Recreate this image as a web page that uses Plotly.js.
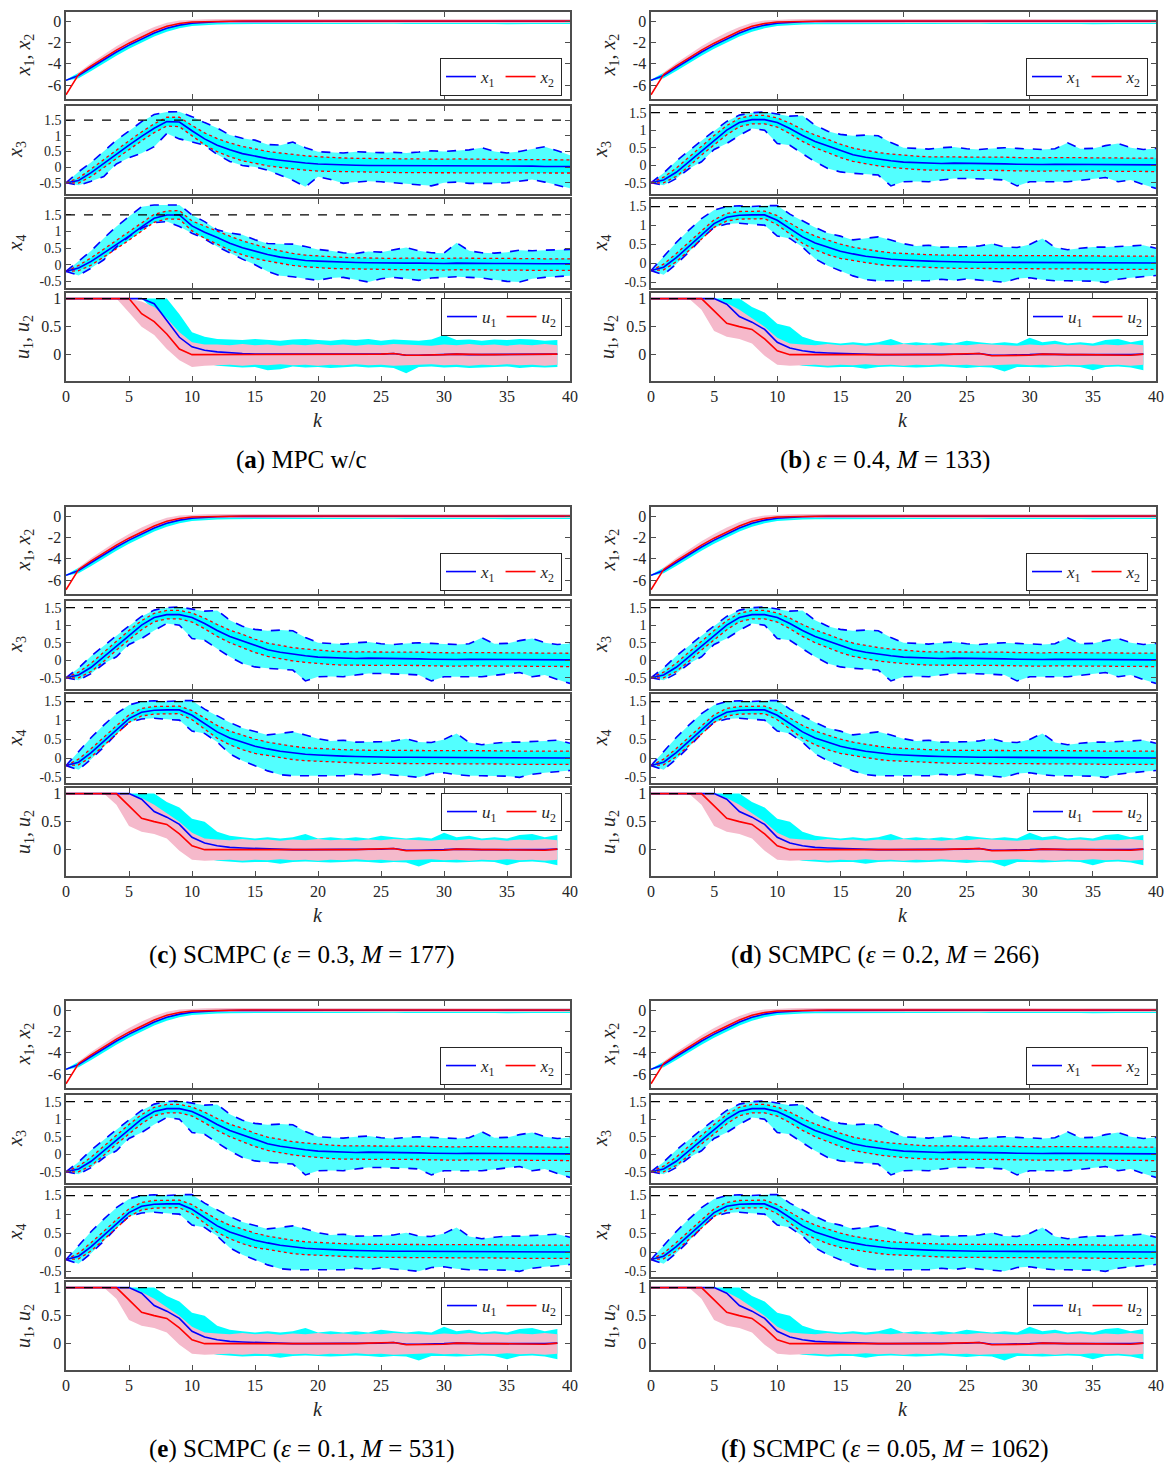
<!DOCTYPE html>
<html><head><meta charset="utf-8">
<script src="https://cdn.plot.ly/plotly-3.0.1.min.js"></script>
<style>html,body{margin:0;padding:0;background:#fff}#chart{width:1171px;height:1464px}</style>
</head><body><div id="chart"></div>
<script>
// ---------- DATA ----------
const kState = [0,1,2,3,4,5,6,7,8,9,10,11,12,13,14,15,16,17,18,19,20,21,22,23,24,25,26,27,28,29,30,31,32,33,34,35,36,37,38,39,40];
const kInput = [0,1,2,3,4,5,6,7,8,9,10,11,12,13,14,15,16,17,18,19,20,21,22,23,24,25,26,27,28,29,30,31,32,33,34,35,36,37,38,39];
const xTicksTop = [10,20,30];
const xTicksBottom = [0,5,10,15,20,25,30,35,40];
const yTicksX12 = [-6,-4,-2,0];
const yTicksX34 = [-0.5,0,0.5,1,1.5];
const yTicksU = [0,0.5,1];
const stateLimit = 1.5;
const inputLimit = 1;

// x1, x2 (same in all panels)
const x1Mean = [-5.55,-5.10,-4.35,-3.60,-2.90,-2.25,-1.65,-1.12,-0.68,-0.38,-0.20,-0.11,-0.06,-0.04,-0.03,-0.02,-0.02,-0.02,-0.01,-0.02,-0.01,-0.01,-0.02,-0.01,-0.01,-0.01,-0.02,-0.01,-0.01,-0.01,-0.01,-0.02,-0.01,-0.01,-0.01,-0.01,-0.01,-0.02,-0.01,-0.01,-0.01];
const x2Mean = [-6.90,-5.00,-4.20,-3.42,-2.72,-2.07,-1.47,-0.93,-0.48,-0.22,-0.09,-0.04,-0.02,-0.01,0,0,0,0,0,0,0,0,0,0,0,0,0,0,0,0,0,0,0,0,0,0,0,0,0,0,0];
const x1Lo = [-5.60,-5.35,-4.68,-3.95,-3.26,-2.60,-2.00,-1.45,-1.00,-0.68,-0.46,-0.36,-0.31,-0.29,-0.28,-0.27,-0.28,-0.26,-0.27,-0.29,-0.26,-0.27,-0.28,-0.26,-0.30,-0.27,-0.26,-0.28,-0.27,-0.26,-0.29,-0.27,-0.26,-0.28,-0.27,-0.30,-0.26,-0.27,-0.28,-0.26,-0.27];
const x1Hi = [-5.50,-4.85,-4.10,-3.35,-2.66,-2.02,-1.42,-0.90,-0.46,-0.16,0.00,0.06,0.09,0.11,0.12,0.12,0.13,0.11,0.12,0.14,0.12,0.13,0.11,0.12,0.14,0.12,0.13,0.12,0.11,0.13,0.14,0.12,0.13,0.12,0.11,0.13,0.14,0.12,0.13,0.12,0.13];
const x2Lo = [-6.90,-5.18,-4.40,-3.64,-2.94,-2.29,-1.69,-1.14,-0.68,-0.40,-0.26,-0.20,-0.18,-0.17,-0.17,-0.16,-0.17,-0.16,-0.17,-0.18,-0.16,-0.17,-0.16,-0.17,-0.18,-0.16,-0.17,-0.16,-0.17,-0.16,-0.18,-0.17,-0.16,-0.17,-0.16,-0.17,-0.18,-0.16,-0.17,-0.16,-0.17];
const x2Hi = [-6.90,-4.82,-3.92,-3.10,-2.36,-1.68,-1.08,-0.56,-0.16,0.06,0.15,0.18,0.19,0.19,0.18,0.19,0.18,0.19,0.20,0.18,0.19,0.18,0.19,0.18,0.20,0.19,0.18,0.19,0.18,0.19,0.20,0.18,0.19,0.18,0.19,0.18,0.20,0.19,0.18,0.19,0.18];

// Panel (a): MPC w/c
const mpcX3Mean = [-0.50,-0.43,-0.18,0.12,0.42,0.70,0.98,1.24,1.45,1.44,1.16,0.90,0.70,0.55,0.43,0.34,0.27,0.22,0.17,0.13,0.10,0.08,0.07,0.06,0.05,0.05,0.04,0.04,0.04,0.04,0.04,0.05,0.04,0.04,0.03,0.03,0.03,0.03,0.02,0.02,0.02];
const mpcX3DotU = [-0.50,-0.35,-0.06,0.25,0.56,0.84,1.12,1.38,1.59,1.59,1.33,1.09,0.91,0.77,0.66,0.57,0.50,0.45,0.40,0.36,0.33,0.30,0.29,0.28,0.27,0.27,0.26,0.26,0.26,0.25,0.25,0.26,0.25,0.25,0.24,0.24,0.24,0.24,0.23,0.23,0.23];
const mpcX3DotL = [-0.50,-0.51,-0.30,-0.01,0.28,0.56,0.84,1.10,1.31,1.29,0.99,0.71,0.49,0.33,0.20,0.11,0.04,-0.01,-0.06,-0.10,-0.13,-0.14,-0.15,-0.16,-0.17,-0.17,-0.18,-0.18,-0.18,-0.18,-0.18,-0.17,-0.18,-0.18,-0.19,-0.19,-0.19,-0.19,-0.19,-0.19,-0.19];
const mpcX3EnvU = [-0.50,-0.15,0.15,0.50,0.86,1.15,1.45,1.68,1.76,1.77,1.61,1.42,1.25,1.02,0.92,0.86,0.72,0.70,0.80,0.62,0.49,0.47,0.45,0.49,0.47,0.46,0.47,0.45,0.48,0.52,0.50,0.53,0.55,0.62,0.50,0.45,0.50,0.58,0.65,0.52,0.38];
const mpcX3EnvL = [-0.50,-0.58,-0.45,-0.30,0.10,0.30,0.44,0.65,1.07,0.90,0.80,0.70,0.40,0.18,0.05,0.00,-0.10,-0.25,-0.42,-0.63,-0.31,-0.40,-0.52,-0.48,-0.45,-0.47,-0.50,-0.52,-0.55,-0.60,-0.50,-0.48,-0.52,-0.53,-0.52,-0.50,-0.45,-0.40,-0.48,-0.58,-0.68];
const mpcX4Mean = [-0.20,-0.10,0.10,0.35,0.60,0.86,1.14,1.40,1.50,1.50,1.17,0.98,0.82,0.65,0.51,0.40,0.31,0.23,0.17,0.13,0.11,0.09,0.08,0.07,0.06,0.05,0.05,0.05,0.05,0.04,0.04,0.05,0.04,0.04,0.04,0.04,0.03,0.03,0.03,0.03,0.03];
const mpcX4DotU = [-0.20,-0.02,0.21,0.47,0.72,0.98,1.26,1.52,1.62,1.63,1.32,1.16,1.02,0.86,0.72,0.60,0.50,0.42,0.34,0.29,0.26,0.24,0.22,0.21,0.20,0.19,0.19,0.20,0.19,0.19,0.19,0.20,0.19,0.19,0.19,0.19,0.18,0.18,0.18,0.18,0.18];
const mpcX4DotL = [-0.20,-0.18,-0.01,0.23,0.48,0.74,1.02,1.28,1.38,1.37,1.02,0.80,0.62,0.44,0.30,0.19,0.11,0.04,-0.02,-0.06,-0.09,-0.11,-0.12,-0.13,-0.14,-0.15,-0.15,-0.15,-0.15,-0.16,-0.16,-0.15,-0.16,-0.16,-0.16,-0.16,-0.17,-0.17,-0.17,-0.17,-0.17];
const mpcX4EnvU = [-0.20,0.12,0.42,0.80,1.15,1.45,1.75,1.80,1.80,1.80,1.50,1.30,1.05,0.96,0.90,0.75,0.64,0.64,0.62,0.55,0.46,0.42,0.36,0.34,0.40,0.38,0.45,0.52,0.42,0.36,0.35,0.66,0.42,0.36,0.35,0.38,0.44,0.42,0.44,0.45,0.46];
const mpcX4EnvL = [-0.20,-0.32,-0.10,0.15,0.54,0.85,1.10,1.27,1.30,1.15,0.95,0.78,0.55,0.35,0.17,0.00,-0.20,-0.33,-0.36,-0.42,-0.47,-0.40,-0.38,-0.45,-0.52,-0.42,-0.38,-0.42,-0.47,-0.40,-0.38,-0.36,-0.38,-0.40,-0.45,-0.50,-0.52,-0.42,-0.38,-0.35,-0.33];
const mpcU1Mean = [1,1,1,1,1,1,1,0.91,0.62,0.31,0.14,0.08,0.05,0.03,0.02,0.01,0.01,0.00,0.00,0.00,0.01,0.00,0.00,0.01,0.00,0.01,0.02,-0.01,-0.01,0.00,0.00,0.01,0.00,0.00,0.00,0.00,0.00,0.00,0.00,0.01];
const mpcU2Mean = [1,1,1,1,1,1,0.73,0.59,0.37,0.10,0.00,0.00,0.00,0.00,0.00,0.00,0.00,0.00,0.00,0.00,0.00,0.00,0.00,0.01,0.01,0.01,0.02,-0.01,-0.01,-0.01,0.00,0.01,0.00,0.00,0.00,0.00,0.00,0.00,0.00,0.01];
const mpcU1Hi = [1,1,1,1,1,1,1,1,1,0.72,0.40,0.32,0.28,0.27,0.26,0.28,0.27,0.25,0.27,0.28,0.26,0.25,0.27,0.26,0.28,0.25,0.27,0.26,0.25,0.27,0.35,0.26,0.27,0.25,0.27,0.26,0.28,0.27,0.25,0.26];
const mpcU1Lo = [1,1,1,1,1,1,1,0.80,0.45,0.12,-0.05,-0.15,-0.20,-0.22,-0.23,-0.22,-0.28,-0.26,-0.21,-0.23,-0.22,-0.24,-0.22,-0.21,-0.23,-0.22,-0.24,-0.33,-0.22,-0.21,-0.23,-0.22,-0.24,-0.23,-0.22,-0.21,-0.24,-0.22,-0.23,-0.22];
const mpcU2Hi = [1,1,1,1,1,1,0.95,0.85,0.65,0.40,0.22,0.18,0.18,0.17,0.19,0.17,0.18,0.16,0.18,0.17,0.19,0.17,0.18,0.16,0.18,0.17,0.19,0.18,0.17,0.16,0.18,0.17,0.19,0.17,0.18,0.16,0.18,0.17,0.19,0.17];
const mpcU2Lo = [1,1,1,1,1,0.75,0.50,0.35,0.10,-0.10,-0.22,-0.20,-0.19,-0.18,-0.20,-0.18,-0.19,-0.17,-0.19,-0.18,-0.20,-0.18,-0.19,-0.17,-0.19,-0.18,-0.20,-0.19,-0.18,-0.17,-0.19,-0.18,-0.20,-0.18,-0.19,-0.17,-0.19,-0.18,-0.20,-0.18];

// Panels (b)-(f): SCMPC (visually identical runs)
const scX3Mean = [-0.50,-0.42,-0.20,0.10,0.42,0.72,1.00,1.22,1.30,1.30,1.22,1.05,0.85,0.68,0.55,0.41,0.30,0.23,0.17,0.13,0.09,0.07,0.05,0.05,0.06,0.06,0.05,0.05,0.04,0.03,0.02,0.02,0.03,0.03,0.03,0.03,0.02,0.02,0.02,0.01,0.01];
const scX3DotU = [-0.50,-0.34,-0.08,0.23,0.55,0.85,1.13,1.34,1.42,1.42,1.35,1.20,1.02,0.86,0.74,0.60,0.49,0.42,0.36,0.32,0.28,0.26,0.24,0.24,0.25,0.25,0.24,0.24,0.23,0.22,0.21,0.21,0.22,0.22,0.22,0.22,0.21,0.21,0.21,0.20,0.20];
const scX3DotL = [-0.50,-0.50,-0.32,-0.03,0.29,0.59,0.87,1.10,1.18,1.18,1.09,0.90,0.68,0.50,0.36,0.22,0.11,0.04,-0.02,-0.06,-0.10,-0.12,-0.14,-0.14,-0.13,-0.13,-0.14,-0.14,-0.15,-0.16,-0.17,-0.17,-0.16,-0.16,-0.16,-0.16,-0.17,-0.17,-0.17,-0.18,-0.18];
const scX3EnvU = [-0.50,-0.22,0.12,0.42,0.70,0.98,1.25,1.43,1.50,1.52,1.47,1.40,1.42,1.14,0.97,0.88,0.84,0.86,0.84,0.65,0.50,0.47,0.46,0.50,0.52,0.47,0.45,0.48,0.50,0.48,0.47,0.45,0.47,0.64,0.47,0.48,0.56,0.62,0.50,0.45,0.48];
const scX3EnvL = [-0.50,-0.57,-0.38,-0.10,0.10,0.45,0.62,0.85,1.05,1.00,0.62,0.57,0.33,0.10,-0.09,-0.19,-0.23,-0.26,-0.28,-0.59,-0.47,-0.46,-0.47,-0.42,-0.38,-0.38,-0.38,-0.40,-0.42,-0.59,-0.47,-0.46,-0.47,-0.47,-0.43,-0.38,-0.35,-0.47,-0.42,-0.55,-0.66];
const scX4Mean = [-0.19,-0.10,0.15,0.45,0.75,1.05,1.22,1.27,1.28,1.28,1.14,0.92,0.70,0.54,0.42,0.32,0.25,0.19,0.15,0.11,0.09,0.07,0.06,0.05,0.04,0.04,0.03,0.03,0.03,0.03,0.02,0.02,0.02,0.02,0.02,0.02,0.01,0.01,0.01,0.01,0.01];
const scX4DotU = [-0.19,-0.02,0.26,0.57,0.86,1.15,1.32,1.37,1.38,1.38,1.26,1.07,0.87,0.72,0.61,0.51,0.43,0.37,0.32,0.28,0.26,0.24,0.23,0.22,0.21,0.21,0.21,0.21,0.21,0.21,0.20,0.20,0.20,0.20,0.20,0.20,0.19,0.19,0.19,0.19,0.19];
const scX4DotL = [-0.19,-0.17,0.04,0.33,0.64,0.95,1.12,1.17,1.18,1.18,1.02,0.77,0.53,0.36,0.23,0.13,0.07,0.01,-0.03,-0.06,-0.08,-0.10,-0.11,-0.12,-0.13,-0.13,-0.14,-0.14,-0.14,-0.14,-0.15,-0.15,-0.15,-0.15,-0.15,-0.15,-0.16,-0.16,-0.16,-0.16,-0.16];
const scX4EnvU = [-0.19,0.18,0.55,0.88,1.18,1.41,1.50,1.52,1.50,1.52,1.53,1.30,1.12,0.95,0.80,0.72,0.62,0.66,0.70,0.62,0.52,0.46,0.48,0.43,0.43,0.44,0.46,0.52,0.43,0.42,0.50,0.66,0.42,0.36,0.40,0.43,0.43,0.44,0.46,0.48,0.40];
const scX4EnvL = [-0.19,-0.30,-0.02,0.30,0.65,0.95,1.04,1.06,1.03,1.01,0.72,0.66,0.43,0.12,-0.06,-0.20,-0.33,-0.43,-0.46,-0.46,-0.46,-0.44,-0.46,-0.42,-0.45,-0.41,-0.44,-0.48,-0.50,-0.40,-0.38,-0.43,-0.46,-0.46,-0.46,-0.47,-0.50,-0.42,-0.38,-0.35,-0.32];
const scU1Mean = [1,1,1,1,1,1,0.90,0.68,0.58,0.45,0.22,0.12,0.07,0.04,0.03,0.02,0.02,0.01,0.00,0.00,0.00,0.00,0.00,0.01,0.01,0.01,0.02,-0.01,-0.01,-0.01,0.00,0.01,0.00,0.00,0.00,0.00,-0.01,-0.01,0.00,0.01];
const scU2Mean = [1,1,1,1,1,0.78,0.56,0.50,0.45,0.28,0.07,0.00,0.00,0.00,0.00,0.00,0.00,0.00,-0.01,-0.01,0.00,0.00,0.00,0.00,0.01,0.01,0.02,-0.02,-0.02,-0.01,-0.01,0.01,0.00,0.00,0.00,0.00,-0.01,-0.01,-0.01,0.01];
const scU1Hi = [1,1,1,1,1,1,1,1,0.85,0.75,0.55,0.50,0.32,0.25,0.22,0.20,0.22,0.20,0.22,0.28,0.20,0.22,0.20,0.22,0.20,0.25,0.22,0.20,0.22,0.20,0.30,0.22,0.25,0.20,0.22,0.20,0.26,0.28,0.22,0.26];
const scU1Lo = [1,1,1,1,1,1,0.78,0.55,0.42,0.25,0.02,-0.15,-0.20,-0.22,-0.23,-0.22,-0.22,-0.25,-0.22,-0.21,-0.22,-0.23,-0.22,-0.21,-0.22,-0.24,-0.22,-0.23,-0.30,-0.22,-0.22,-0.23,-0.22,-0.21,-0.22,-0.28,-0.22,-0.21,-0.23,-0.28];
const scU2Hi = [1,1,1,1,1,1,0.92,0.80,0.65,0.50,0.30,0.20,0.18,0.17,0.19,0.17,0.18,0.16,0.18,0.17,0.19,0.17,0.18,0.16,0.18,0.17,0.19,0.18,0.17,0.16,0.18,0.17,0.19,0.17,0.18,0.16,0.18,0.17,0.19,0.17];
const scU2Lo = [1,1,1,1,0.80,0.42,0.32,0.28,0.20,-0.02,-0.18,-0.20,-0.19,-0.18,-0.20,-0.18,-0.19,-0.17,-0.19,-0.18,-0.20,-0.18,-0.19,-0.17,-0.19,-0.18,-0.20,-0.19,-0.18,-0.17,-0.19,-0.18,-0.20,-0.18,-0.19,-0.17,-0.19,-0.18,-0.20,-0.18];

const captions = [
  '(<b>a</b>) MPC w/c',
  '(<b>b</b>) <i>ε</i> = 0.4, <i>M</i> = 133)',
  '(<b>c</b>) SCMPC (<i>ε</i> = 0.3, <i>M</i> = 177)',
  '(<b>d</b>) SCMPC (<i>ε</i> = 0.2, <i>M</i> = 266)',
  '(<b>e</b>) SCMPC (<i>ε</i> = 0.1, <i>M</i> = 531)',
  '(<b>f</b>) SCMPC (<i>ε</i> = 0.05, <i>M</i> = 1062)'
];

// ---------- BUILD ----------
const mpcSet = {x3:[mpcX3Mean,mpcX3DotU,mpcX3DotL,mpcX3EnvU,mpcX3EnvL], x4:[mpcX4Mean,mpcX4DotU,mpcX4DotL,mpcX4EnvU,mpcX4EnvL],
  u:[mpcU1Mean,mpcU2Mean,mpcU1Lo,mpcU1Hi,mpcU2Lo,mpcU2Hi], r3:[-0.86,1.95], r4:[-0.70,1.98]};
const scSet = {x3:[scX3Mean,scX3DotU,scX3DotL,scX3EnvU,scX3EnvL], x4:[scX4Mean,scX4DotU,scX4DotL,scX4EnvU,scX4EnvL],
  u:[scU1Mean,scU2Mean,scU1Lo,scU1Hi,scU2Lo,scU2Hi], r3:[-0.82,1.69], r4:[-0.65,1.70]};
const sets = [mpcSet, scSet, scSet, scSet, scSet, scSet];

const W = 1171, H = 1464;
const colX = [[66,570],[651,1156]];
const rowOff = [0,495,989];
const boxes = [[12,99],[106,194],[199,288],[293,381]];
const FONT = 'Liberation Serif, Times New Roman, serif';
const AX = '#4d4d4d';
const CYAN = 'rgb(0,255,255)', CYANA = 'rgba(0,255,255,0.68)', PINK = 'rgb(245,185,203)';

const traces = [], layout = {
  width: W, height: H, margin:{l:0,r:0,t:0,b:0}, paper_bgcolor:'#fff', plot_bgcolor:'#fff',
  font:{family:FONT, size:16, color:'#262626'}, showlegend:true, annotations:[], shapes:[]
};
const fmt = v => String(v);
let legendCount = 0;

function ax(n){ return n===1 ? ['x','y','xaxis','yaxis'] : ['x'+n,'y'+n,'xaxis'+n,'yaxis'+n]; }
function band(n, xs, lo, hi, color){
  const [xa,ya] = ax(n);
  traces.push({x:xs,y:lo,xaxis:xa,yaxis:ya,mode:'lines',line:{width:0,color:color},showlegend:false,hoverinfo:'skip'});
  traces.push({x:xs,y:hi,xaxis:xa,yaxis:ya,mode:'lines',line:{width:0,color:color},fill:'tonexty',fillcolor:color,showlegend:false,hoverinfo:'skip'});
}
function line(n, xs, ys, color, dash, width, name, legend){
  const [xa,ya] = ax(n);
  const t = {x:xs,y:ys,xaxis:xa,yaxis:ya,mode:'lines',line:{color:color,dash:dash,width:width},hoverinfo:'skip',showlegend:!!name};
  if (name){ t.name = name; t.legend = legend; }
  traces.push(t);
}
function newLegend(xr, yp, anchorY){
  legendCount++;
  const key = legendCount===1 ? 'legend' : 'legend'+legendCount;
  layout[key] = {x:xr/W, y:1-yp/H, xanchor:'right', yanchor:anchorY, orientation:'h', traceorder:'normal',
    bgcolor:'#fff', bordercolor:'#262626', borderwidth:1, font:{family:FONT,size:17,color:'#262626'},
    itemwidth:30, tracegroupgap:0, itemclick:false, itemdoubleclick:false};
  return key;
}

for (let p=0; p<6; p++){
  const col = p%2, row = Math.floor(p/2), S = sets[p], off = rowOff[row];
  const [xl,xr] = colX[col];
  const yr = [[-7.3,0.85], S.r3, S.r4, [-0.47,1.1]];
  const yt = [yTicksX12, yTicksX34, yTicksX34, yTicksU];
  for (let s=0; s<4; s++){
    const n = p*4+s+1; const [xa,ya,xk,yk] = ax(n);
    const top = boxes[s][0]+off, bot = boxes[s][1]+off;
    const yfs = (s===1||s===2) ? 14 : 16;
    layout[xk] = {domain:[xl/W, xr/W], anchor:ya, range:[0,40], showgrid:false, zeroline:false,
      showline:true, linecolor:AX, linewidth:1.6, mirror:'ticks', ticks:'inside', ticklen:5, tickcolor:AX, tickwidth:1,
      tickmode:'array', tickvals: s===3 ? xTicksBottom : xTicksTop, ticktext: (s===3 ? xTicksBottom : xTicksTop).map(fmt),
      showticklabels: s===3, tickfont:{family:FONT,size:16,color:'#262626'}, fixedrange:true};
    layout[yk] = {domain:[1-bot/H, 1-top/H], anchor:xa, range:yr[s], showgrid:false, zeroline:false,
      showline:true, linecolor:AX, linewidth:1.6, mirror:'ticks', ticks:'inside', ticklen:5, tickcolor:AX, tickwidth:1,
      tickmode:'array', tickvals:yt[s], ticktext:yt[s].map(fmt), tickfont:{family:FONT,size:yfs,color:'#262626'}, fixedrange:true};
    if (s===0){
      band(n, kState, x1Lo, x1Hi, CYAN);
      band(n, kState, x2Lo, x2Hi, 'rgba(245,185,203,0.9)');
      const lg = newLegend(xr-8, off+96, 'bottom');
      line(n, kState, x1Mean, '#0000ff', 'solid', 1.6, '<i>x</i><sub>1</sub>', lg);
      line(n, kState, x2Mean, '#ff0000', 'solid', 1.6, '<i>x</i><sub>2</sub>', lg);
    } else if (s===1 || s===2){
      const [m,du,dl,eu,el] = s===1 ? S.x3 : S.x4;
      band(n, kState, el, eu, CYANA);
      band(n, kState, dl, du, CYAN);
      line(n, kState, el, '#0000ff', 'dash', 1.6);
      line(n, kState, eu, '#0000ff', 'dash', 1.6);
      line(n, kState, du, '#ff0000', 'dot', 1.3);
      line(n, kState, dl, '#ff0000', 'dot', 1.3);
      line(n, kState, m, '#0000ff', 'solid', 1.6);
      layout.shapes.push({type:'line', xref:xa, yref:ya, x0:0, x1:40, y0:stateLimit, y1:stateLimit, line:{color:'#000',width:1.2,dash:'dash'}});
    } else {
      const [u1,u2,u1lo,u1hi,u2lo,u2hi] = S.u;
      band(n, kInput, u1lo, u1hi, CYAN);
      band(n, kInput, u2lo, u2hi, PINK);
      const lg = newLegend(xr-8, off+298, 'top');
      line(n, kInput, u1, '#0000ff', 'solid', 1.6, '<i>u</i><sub>1</sub>', lg);
      line(n, kInput, u2, '#ff0000', 'solid', 1.6, '<i>u</i><sub>2</sub>', lg);
      layout.shapes.push({type:'line', xref:xa, yref:ya, x0:0, x1:40, y0:inputLimit, y1:inputLimit, line:{color:'#000',width:1.2,dash:'dash'}});
    }
    const ylab = ['<i>x</i><sub>1</sub>, <i>x</i><sub>2</sub>','<i>x</i><sub>3</sub>','<i>x</i><sub>4</sub>','<i>u</i><sub>1</sub>, <i>u</i><sub>2</sub>'][s];
    const ylx = (s===0||s===3) ? 24 : 16;
    layout.annotations.push({xref:'paper', yref:'paper', x:(ylx + (col? 585:0))/W, y:1-((top+bot)/2)/H,
      text:ylab, showarrow:false, textangle:-90, font:{family:FONT,size:20,color:'#262626'}, xanchor:'center', yanchor:'middle'});
  }
  layout.annotations.push({xref:'paper', yref:'paper', x:((xl+xr)/2)/W, y:1-(off+420)/H, text:'<i>k</i>', showarrow:false,
    font:{family:FONT,size:20,color:'#262626'}, xanchor:'center', yanchor:'middle'});
  layout.annotations.push({xref:'paper', yref:'paper', x:(col? 885:301)/W, y:1-(off+460)/H, text:captions[p], showarrow:false,
    font:{family:FONT,size:25,color:'#000'}, xanchor:'center', yanchor:'middle'});
}

Plotly.newPlot('chart', traces, layout, {staticPlot:true, displayModeBar:false});
</script>
</body></html>
